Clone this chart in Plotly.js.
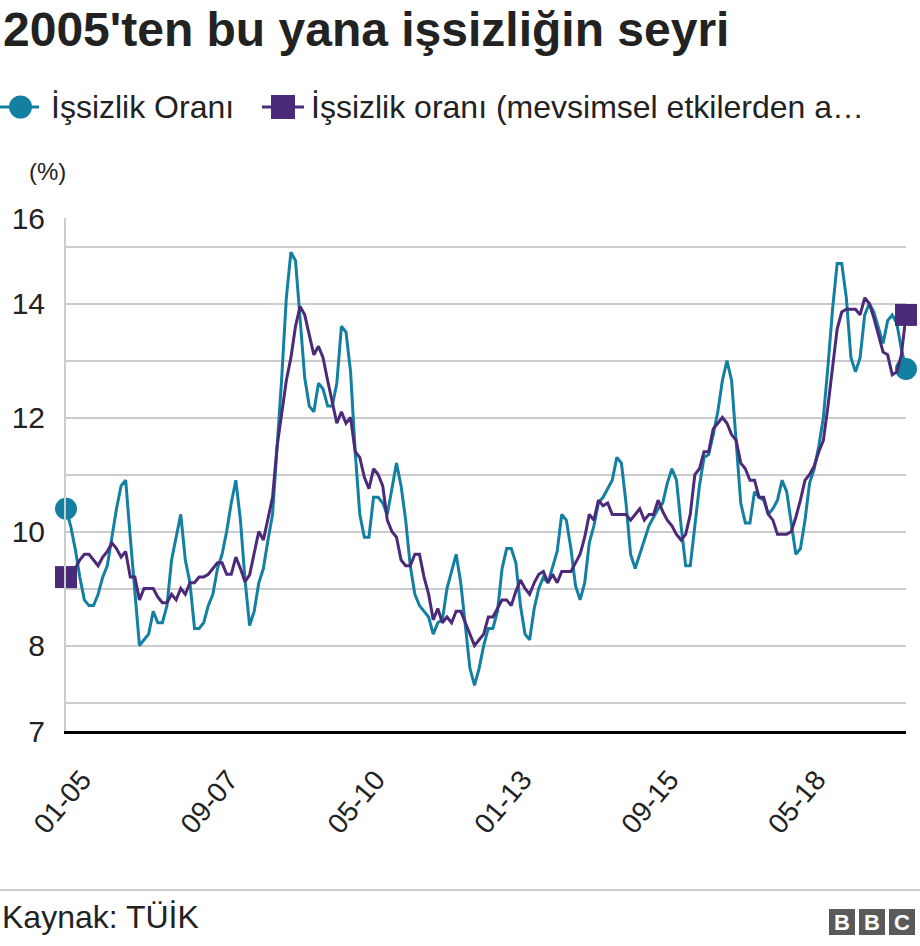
<!DOCTYPE html>
<html>
<head>
<meta charset="utf-8">
<script src="https://cdn.plot.ly/plotly-3.0.1.min.js"></script>
<style>
html,body{margin:0;padding:0;background:#fff;}
#chart{width:920px;height:946px;}
</style>
</head>
<body>
<div id="chart"></div>
<script>
// ---- Data (monthly, Jan 2005 – Apr 2020) ----
const startYear = 2005;
const monthCount = 184;
const months = [];
for (let i = 0; i < monthCount; i++) {
  const mm = (i % 12) + 1;
  const yy = (startYear + Math.floor(i / 12)) % 100;
  months.push(String(mm).padStart(2, '0') + '-' + String(yy).padStart(2, '0'));
}

const seriesNames = ['İşsizlik Oranı', 'İşsizlik oranı (mevsimsel etkilerden a…'];

const unemploymentRate = [
  10.4, 10.1, 9.7, 9.2, 8.8, 8.7, 8.7, 8.9, 9.2, 9.4, 9.9, 10.4,
  10.8, 10.9, 9.9, 8.9, 8.0, 8.1, 8.2, 8.6, 8.4, 8.4, 8.7, 9.5,
  9.9, 10.3, 9.5, 9.1, 8.3, 8.3, 8.4, 8.7, 8.9, 9.35, 9.6, 10.0,
  10.5, 10.9, 10.2, 9.15, 8.35, 8.6, 9.1, 9.35, 9.85, 10.3, 11.5, 12.7,
  14.1, 14.9, 14.75, 13.8, 12.7, 12.2, 12.1, 12.6, 12.5, 12.2, 12.2, 12.6,
  13.6, 13.5, 12.8, 11.4, 10.3, 9.9, 9.9, 10.6, 10.6, 10.5, 10.3, 10.75,
  11.2, 10.8, 10.2, 9.4, 8.9, 8.7, 8.6, 8.5, 8.2, 8.4, 8.45, 9.0,
  9.3, 9.6, 9.1, 8.3, 7.6, 7.3, 7.6, 8.0, 8.3, 8.3, 8.6, 9.35,
  9.7, 9.7, 9.45, 8.7, 8.2, 8.1, 8.65, 9.0, 9.2, 9.1, 9.4, 9.65,
  10.3, 10.2, 9.7, 9.05, 8.8, 9.1, 9.8, 10.1, 10.5, 10.6, 10.75, 10.9,
  11.3, 11.2, 10.5, 9.6, 9.35, 9.6, 9.85, 10.1, 10.25, 10.4, 10.5, 10.85,
  11.1, 10.9, 10.1, 9.4, 9.4, 10.1, 10.8, 11.3, 11.35, 11.7, 12.1, 12.65,
  13.0, 12.65, 11.6, 10.5, 10.15, 10.15, 10.7, 10.6, 10.55, 10.3, 10.4, 10.55,
  10.9, 10.7, 10.15, 9.6, 9.7, 10.2, 10.85, 11.1, 11.5, 12.0, 12.9, 13.9,
  14.7, 14.7, 14.1, 13.05, 12.8, 13.05, 13.8, 14.0, 13.85, 13.55, 13.3, 13.7,
  13.8, 13.65, 13.2, 12.85
];

const seasonallyAdjusted = [
  9.2, 9.25, 9.35, 9.5, 9.6, 9.6, 9.5, 9.4, 9.55, 9.65, 9.8, 9.7,
  9.55, 9.65, 9.2, 9.2, 8.8, 9.0, 9.0, 9.0, 8.85, 8.75, 8.75, 8.9,
  8.8, 9.0, 8.9, 9.1, 9.1, 9.2, 9.2, 9.25, 9.35, 9.45, 9.45, 9.25,
  9.25, 9.55, 9.35, 9.12, 9.24, 9.65, 10.0, 9.85, 10.2, 10.6, 11.5, 12.05,
  12.65, 13.05, 13.6, 13.95, 13.8, 13.45, 13.1, 13.25, 13.05, 12.65, 12.25, 11.9,
  12.1, 11.9, 12.0, 11.4, 11.3, 10.95, 10.75, 11.1, 11.0, 10.8, 10.2, 10.0,
  9.9, 9.5, 9.4, 9.4, 9.6, 9.6, 9.2, 8.9, 8.45, 8.65, 8.4, 8.5,
  8.4, 8.6, 8.6, 8.4, 8.2, 8.0, 8.1, 8.2, 8.5, 8.5, 8.65, 8.8,
  8.8, 8.7, 8.95, 9.15, 9.0, 8.9, 9.1, 9.25, 9.3, 9.1, 9.25, 9.1,
  9.3, 9.3, 9.3, 9.45, 9.6, 9.9, 10.3, 10.2, 10.55, 10.45, 10.5, 10.3,
  10.3, 10.3, 10.3, 10.2, 10.3, 10.4, 10.2, 10.3, 10.3, 10.55, 10.35, 10.2,
  10.1, 9.95, 9.85, 9.95, 10.3, 11.0, 11.1, 11.4, 11.4, 11.8, 11.9, 12.0,
  11.9, 11.7, 11.6, 11.2, 11.1, 10.9, 10.9, 10.6, 10.6, 10.3, 10.2, 9.95,
  9.95, 9.95, 10.0, 10.25, 10.55, 10.9, 11.0, 11.15, 11.4, 11.6, 12.2, 12.9,
  13.55, 13.85, 13.9, 13.9, 13.9, 13.8, 14.1, 14.0, 13.75, 13.45, 13.15, 13.1,
  12.75, 12.8, 13.1, 13.8
];

const xTickLabels = ['01-05', '09-07', '05-10', '01-13', '09-15', '05-18'];
const yTickValues = [6.5, 7, 8, 9, 10, 11, 12, 13, 14, 15, 15.5];
const yTickLabels = ['7', '', '8', '', '10', '', '12', '', '14', '', '16'];

// ---- Styling ----
const TEAL = '#1380A1';
const PURPLE = '#4b2a7a';
const FONT = 'Liberation Sans, Arial, Helvetica, sans-serif';

// plot area in pixels
const L = 66, R = 906, T = 218, B = 731;
const px = x => (x - L) / (R - L);
const py = y => (B - y) / (B - T);

function endSizes(n, s) { return Array.from({length: n}, (_, i) => (i === 0 || i === n - 1) ? s : 0); }

const traces = [
  {
    type: 'scatter', mode: 'lines+markers', name: seriesNames[0],
    x: months, y: unemploymentRate, cliponaxis: false,
    line: {color: TEAL, width: 3},
    marker: {color: TEAL, symbol: 'circle', opacity: 1, line: {width: 0}, size: endSizes(months.length, 22)},
    hoverinfo: 'x+y'
  },
  {
    type: 'scatter', mode: 'lines+markers', name: seriesNames[1],
    x: months, y: seasonallyAdjusted, cliponaxis: false,
    line: {color: PURPLE, width: 3},
    marker: {color: PURPLE, symbol: 'square', opacity: 1, line: {width: 0}, size: endSizes(months.length, 22)},
    hoverinfo: 'x+y'
  }
];

const shapes = [
  // legend icons
  {type: 'line', xref: 'paper', yref: 'paper', x0: px(0), x1: px(39), y0: py(107), y1: py(107), line: {color: TEAL, width: 3}},
  {type: 'circle', xref: 'paper', yref: 'paper', x0: px(9), x1: px(32), y0: py(118.5), y1: py(95.5), fillcolor: TEAL, line: {width: 0}},
  {type: 'line', xref: 'paper', yref: 'paper', x0: px(262), x1: px(304), y0: py(107), y1: py(107), line: {color: PURPLE, width: 3}},
  {type: 'rect', xref: 'paper', yref: 'paper', x0: px(271), x1: px(295), y0: py(119), y1: py(95), fillcolor: PURPLE, line: {width: 0}},
  // footer rule
  {type: 'line', xref: 'paper', yref: 'paper', x0: px(0), x1: px(920), y0: py(890), y1: py(890), line: {color: '#9a9a9a', width: 1}},
  // BBC blocks
  {type: 'rect', xref: 'paper', yref: 'paper', x0: px(829), x1: px(855), y0: py(935), y1: py(909), fillcolor: '#5a5a5a', line: {width: 0}},
  {type: 'rect', xref: 'paper', yref: 'paper', x0: px(859), x1: px(885), y0: py(935), y1: py(909), fillcolor: '#5a5a5a', line: {width: 0}},
  {type: 'rect', xref: 'paper', yref: 'paper', x0: px(889), x1: px(915), y0: py(935), y1: py(909), fillcolor: '#5a5a5a', line: {width: 0}}
];

const annotations = [
  {text: "<b>2005'ten bu yana işsizliğin seyri</b>", xref: 'paper', yref: 'paper', x: px(1), y: py(1), xanchor: 'left', yanchor: 'top', showarrow: false, font: {family: FONT, size: 48, color: '#222'}},
  {text: seriesNames[0], xref: 'paper', yref: 'paper', x: px(49), y: py(107), xanchor: 'left', yanchor: 'middle', showarrow: false, font: {family: FONT, size: 32, color: '#222'}},
  {text: seriesNames[1], xref: 'paper', yref: 'paper', x: px(309), y: py(107), xanchor: 'left', yanchor: 'middle', showarrow: false, font: {family: FONT, size: 32, color: '#222'}},
  {text: '(%)', xref: 'paper', yref: 'paper', x: px(27), y: py(172), xanchor: 'left', yanchor: 'middle', showarrow: false, font: {family: FONT, size: 24, color: '#222'}},
  {text: 'Kaynak: TÜİK', xref: 'paper', yref: 'paper', x: px(0), y: py(917), xanchor: 'left', yanchor: 'middle', showarrow: false, font: {family: FONT, size: 32, color: '#222'}},
  {text: '<b>B</b>', xref: 'paper', yref: 'paper', x: px(842), y: py(922), xanchor: 'center', yanchor: 'middle', showarrow: false, font: {family: FONT, size: 22, color: '#fff'}},
  {text: '<b>B</b>', xref: 'paper', yref: 'paper', x: px(872), y: py(922), xanchor: 'center', yanchor: 'middle', showarrow: false, font: {family: FONT, size: 22, color: '#fff'}},
  {text: '<b>C</b>', xref: 'paper', yref: 'paper', x: px(902), y: py(922), xanchor: 'center', yanchor: 'middle', showarrow: false, font: {family: FONT, size: 22, color: '#fff'}}
];

const layout = {
  width: 920, height: 946,
  margin: {l: L, r: 920 - R, t: T, b: 946 - B, pad: 0},
  paper_bgcolor: '#fff', plot_bgcolor: '#fff',
  showlegend: false,
  font: {family: FONT, color: '#222'},
  xaxis: {
    type: 'category', range: [0, months.length - 1],
    tickmode: 'array', tickvals: xTickLabels, ticktext: xTickLabels,
    tickangle: -50, tickfont: {family: FONT, size: 28, color: '#222'},
    ticklabelshift: 16,
    showgrid: false, zeroline: false,
    showline: true, linecolor: '#000', linewidth: 3,
    ticks: 'outside', ticklen: 18, tickcolor: 'rgba(0,0,0,0)',
    fixedrange: true
  },
  yaxis: {
    range: [6.5, 15.5],
    tickmode: 'array', tickvals: yTickValues, ticktext: yTickLabels,
    tickfont: {family: FONT, size: 30, color: '#222'},
    showgrid: true, gridcolor: '#cccccc', gridwidth: 2,
    zeroline: false, showline: true, linecolor: '#cccccc', linewidth: 2,
    ticks: 'outside', ticklen: 13, tickcolor: 'rgba(0,0,0,0)',
    fixedrange: true
  },
  shapes: shapes,
  annotations: annotations
};

Plotly.newPlot('chart', traces, layout, {displayModeBar: false, staticPlot: true});
</script>
</body>
</html>
